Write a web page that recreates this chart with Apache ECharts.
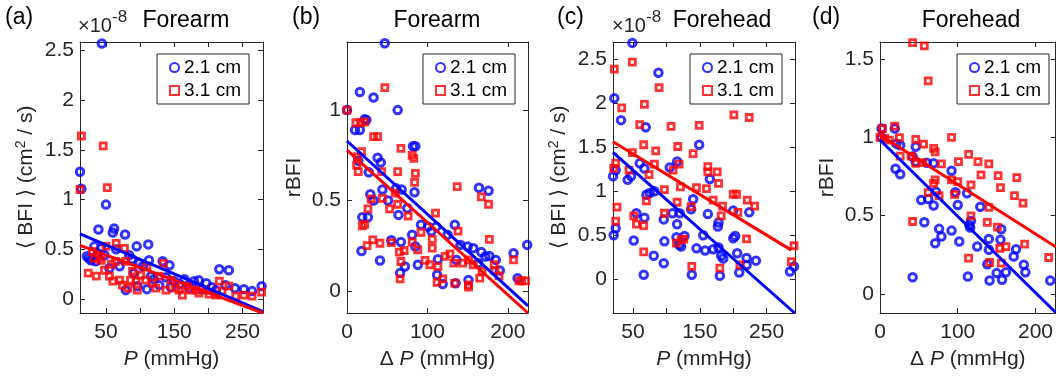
<!DOCTYPE html>
<html>
<head>
<meta charset="utf-8">
<script src="https://cdn.jsdelivr.net/npm/echarts@6/dist/echarts.min.js"></script>
<style>html,body{margin:0;padding:0;background:#fff}#c{width:1056px;height:377px}</style>
</head>
<body>
<div id="c"></div>
<script>
// ---------- data ----------
const seriesNames = ['2.1 cm', '3.1 cm'];

// Panel (a): Forearm, <BFI> (x1e-8 cm^2/s) vs P (mmHg)
const aBlue = [[12,1.28],[14,1.11],[44,2.57],[50,0.95],[39,0.70],[62,0.71],[60,0.67],[78,0.65],[95,0.53],[112,0.55],
 [22,0.43],[25,0.41],[28,0.39],[33,0.53],[35,0.38],[43,0.51],[48,0.44],[38,0.46],[55,0.31],[65,0.50],[70,0.33],[84,0.44],
 [88,0.40],[99,0.36],[91,0.26],[104,0.33],[113,0.39],[116,0.23],[79,0.09],[96,0.13],[110,0.10],[120,0.20],[128,0.14],
 [133,0.38],[143,0.34],[150,0.18],[158,0.15],[165,0.20],[172,0.11],[179,0.18],[186,0.19],[197,0.16],[205,0.12],[211,0.09],
 [216,0.30],[230,0.29],[239,0.11],[252,0.10],[264,0.08],[278,0.13],[138,0.22],[145,0.12],[190,0.10],[225,0.14]];
const aRed = [[14,1.64],[12,1.10],[46,1.54],[52,1.12],[24,0.26],[36,0.23],[30,0.48],[33,0.41],[43,0.39],[48,0.29],[50,0.53],
 [55,0.23],[60,0.18],[65,0.56],[64,0.38],[77,0.51],[74,0.14],[82,0.11],[79,0.38],[89,0.28],[94,0.18],[96,0.09],[110,0.33],
 [108,0.19],[118,0.16],[123,0.11],[134,0.36],[138,0.09],[145,0.19],[152,0.11],[162,0.04],[169,0.13],[174,0.09],[186,0.06],
 [196,0.09],[211,0.04],[216,0.18],[230,0.13],[240,0.03],[252,0.04],[264,0.03],[278,0.07],[220,0.08],[201,0.05],[182,0.09],
 [157,0.09],[101,0.24],[70,0.19],[86,0.19],[128,0.23],[40,0.42],[58,0.35]];
const aBlueFit = [[12,0.655],[280,-0.125]];
const aRedFit = [[12,0.54],[280,-0.14]];

// Panel (b): Forearm, rBFI vs delta P (mmHg)
const bBlue = [[47,1.37],[16,1.10],[33,1.07],[63,1.0],[0,1.0],[10,0.89],[16,0.89],[22,0.95],[24,0.945],[38,0.737],[42,0.71],
 [82,0.80],[85,0.80],[14,0.72],[27,0.656],[29,0.534],[33,0.50],[44,0.56],[61,0.567],[68,0.56],[64,0.42],[75,0.457],[84,0.545],
 [51,0.50],[19,0.407],[26,0.407],[18,0.22],[41,0.168],[55,0.28],[67,0.27],[66,0.098],[72,0.134],[81,0.31],[85,0.245],[88,0.144],
 [92,0.365],[101,0.355],[105,0.33],[111,0.355],[113,0.175],[112,0.088],[119,0.037],[125,0.31],[134,0.365],[135,0.042],[136,0.17],
 [141,0.254],[150,0.245],[157,0.236],[151,0.06],[164,0.57],[176,0.554],[167,0.214],[172,0.19],[177,0.193],[185,0.171],[190,0.112],
 [207,0.208],[212,0.07],[224,0.254],[163,0.153]];
const bRed = [[0,1.0],[47,1.125],[11,0.93],[17,0.93],[22,0.935],[33,0.853],[38,0.853],[67,0.788],[81,0.75],[83,0.733],[13,0.742],
 [18,0.77],[12,0.696],[14,0.66],[43,0.66],[63,0.66],[84,0.60],[85,0.65],[60,0.54],[63,0.479],[44,0.512],[30,0.508],[53,0.453],
 [26,0.453],[19,0.36],[22,0.368],[76,0.414],[92,0.324],[110,0.43],[106,0.285],[106,0.236],[137,0.576],[138,0.33],[167,0.52],
 [176,0.479],[177,0.285],[25,0.25],[32,0.282],[41,0.263],[55,0.267],[65,0.214],[71,0.223],[67,0.162],[66,0.066],[81,0.27],
 [88,0.227],[97,0.168],[103,0.144],[113,0.134],[112,0.046],[119,0.066],[122,0.19],[128,0.204],[134,0.042],[133,0.153],[144,0.153],
 [151,0.171],[151,0.033],[151,0.02],[157,0.144],[165,0.07],[168,0.107],[183,0.144],[184,0.112],[189,0.083],[207,0.171],[214,0.055],
 [222,0.055],[217,0.055]];
const bBlueFit = [[0,0.829],[225,-0.083]];
const bRedFit = [[0,0.779],[225,-0.123]];

// Panel (c): Forehead, <BFI> (x1e-8 cm^2/s) vs P (mmHg)
const cBlue = [[49,2.69],[22,2.06],[32,1.81],[88,2.35],[69,1.73],[149,1.53],[60,1.32],[67,1.26],[24,1.24],[20,1.17],[42,1.13],
 [47,1.17],[105,1.27],[116,1.34],[165,1.14],[70,0.96],[75,0.98],[82,1.0],[140,0.91],[55,0.75],[67,0.70],[96,0.68],[109,0.75],
 [120,0.75],[116,0.625],[137,0.795],[162,0.74],[178,0.644],[177,0.60],[200,0.78],[224,0.76],[24,0.58],[21,0.50],[51,0.44],
 [97,0.43],[115,0.477],[119,0.39],[122,0.37],[127,0.49],[145,0.35],[155,0.50],[158,0.326],[170,0.34],[178,0.36],[182,0.265],
 [185,0.235],[200,0.466],[203,0.49],[206,0.295],[220,0.24],[234,0.21],[220,0.16],[209,0.076],[81,0.265],[96,0.18],[66,0.05],
 [138,0.05],[180,0.038],[285,0.087],[291,0.144]];
const cRed = [[22,2.39],[49,2.47],[89,2.18],[33,1.95],[67,1.99],[60,1.76],[107,1.74],[149,1.75],[201,1.87],[224,1.84],[66,1.53],
 [84,1.46],[117,1.51],[140,1.43],[49,1.44],[21,1.26],[24,1.32],[44,1.24],[74,1.19],[82,1.31],[110,1.24],[119,1.31],[162,1.28],
 [162,1.22],[176,1.22],[121,1.05],[97,1.02],[145,1.04],[160,1.03],[178,1.09],[70,0.89],[116,0.875],[170,0.90],[184,0.83],
 [200,0.966],[205,0.966],[221,0.90],[232,0.83],[26,0.82],[24,0.66],[51,0.72],[55,0.625],[66,0.61],[97,0.75],[137,0.826],
 [182,0.72],[207,0.76],[115,0.41],[122,0.447],[126,0.455],[220,0.458],[66,0.31],[138,0.144],[180,0.125],[210,0.163],[287,0.20],
 [291,0.38]];
const cBlueFit = [[20,1.443],[292,-0.386]];
const cRedFit = [[20,1.565],[287,0.33]];

// Panel (d): Forehead, rBFI vs delta P (mmHg)
const dBlue = [[2,1.057],[19,1.057],[2,1.0],[21,0.96],[26,0.95],[46,0.94],[42,0.877],[46,0.845],[60,0.838],[69,0.834],[20,0.80],
 [26,0.764],[92,0.787],[53,0.60],[62,0.606],[69,0.564],[72,0.653],[97,0.649],[100,0.568],[112,0.643],[129,0.557],[57,0.457],
 [76,0.415],[79,0.366],[71,0.323],[92,0.404],[102,0.334],[115,0.44],[117,0.466],[116,0.423],[125,0.302],[140,0.351],[140,0.281],
 [138,0.189],[141,0.085],[150,0.132],[156,0.413],[155,0.345],[157,0.089],[162,0.138],[175,0.285],[172,0.238],[185,0.185],
 [187,0.138],[42,0.106],[113,0.11],[219,0.085]];
const dRed = [[42,1.606],[57,1.585],[62,1.362],[0,1.0],[3,1.057],[19,1.072],[6,0.994],[12,0.983],[25,0.998],[46,0.987],[56,0.957],
 [92,1.0],[69,0.93],[71,0.908],[40,0.88],[26,0.88],[46,0.834],[55,0.838],[79,0.83],[101,0.845],[114,0.891],[126,0.845],
 [140,0.83],[130,0.76],[152,0.755],[155,0.679],[176,0.743],[173,0.628],[184,0.579],[92,0.728],[100,0.717],[117,0.696],
 [69,0.706],[71,0.728],[62,0.647],[76,0.628],[96,0.636],[117,0.498],[140,0.553],[42,0.462],[138,0.457],[151,0.426],
 [154,0.291],[162,0.302],[186,0.317],[114,0.228],[141,0.20],[156,0.196],[217,0.232]];
const dBlueFit = [[0,0.983],[226,-0.12]];
const dRedFit = [[0,1.015],[226,0.30]];

// tick values / labels
const aXTicks = [50,100,150,200,250], aXLabels = [50,150,250];
const aYTicks = [0,0.5,1,1.5,2,2.5], aYLabels = [0,0.5,1,1.5,2,2.5];
const bXTicks = [0,100,200], bXLabels = [0,100,200];
const bYTicks = [0,0.5,1], bYLabels = [0,0.5,1];
const cXTicks = [50,100,150,200,250], cXLabels = [50,150,250];
const cYTicks = [0,0.5,1,1.5,2,2.5], cYLabels = [0,0.5,1,1.5,2,2.5];
const dXTicks = [0,100,200], dXLabels = [0,100,200];
const dYTicks = [0,0.5,1,1.5], dYLabels = [0,0.5,1,1.5];

const panelLetters = ['(a)','(b)','(c)','(d)'];
const panelTitles = ['Forearm','Forearm','Forehead','Forehead'];
const xNames = ['{i|P} (mmHg)','Δ {i|P} (mmHg)','{i|P} (mmHg)','Δ {i|P} (mmHg)'];
const yNames = ['⟨ BFI ⟩ (cm{s|2} / s)','rBFI','⟨ BFI ⟩ (cm{s|2} / s)','rBFI'];

// ---------- layout / style ----------
const FONT = "'Liberation Sans', Arial, Helvetica, sans-serif";
const AX = '#262626';
const panels = [
  {grid:{left:80,top:42,width:183,height:271}, xr:[12,280], yr:[-0.14,2.585], blue:aBlue, red:aRed, bf:aBlueFit, rf:aRedFit,
   xt:aXTicks, xl:aXLabels, yt:aYTicks, yl:aYLabels, legendLeft:157},
  {grid:{left:347,top:42,width:181,height:271}, xr:[0,225], yr:[-0.123,1.377], blue:bBlue, red:bRed, bf:bBlueFit, rf:bRedFit,
   xt:bXTicks, xl:bXLabels, yt:bYTicks, yl:bYLabels, legendLeft:423},
  {grid:{left:613,top:42,width:182,height:271}, xr:[20,292.5], yr:[-0.386,2.70], blue:cBlue, red:cRed, bf:cBlueFit, rf:cRedFit,
   xt:cXTicks, xl:cXLabels, yt:cYTicks, yl:cYLabels, legendLeft:690},
  {grid:{left:880,top:42,width:182,height:271}, xr:[0,226], yr:[-0.123,1.61], blue:dBlue, red:dRed, bf:dBlueFit, rf:dRedFit,
   xt:dXTicks, xl:dXLabels, yt:dYTicks, yl:dYLabels, legendLeft:957}
];

const grid = [], xAxis = [], yAxis = [], series = [], legend = [];
panels.forEach((p, i) => {
  grid.push(Object.assign({containLabel:false}, p.grid));
  const common = {type:'value', gridIndex:i, splitLine:{show:false},
    axisLine:{show:true, onZero:false, lineStyle:{color:AX, width:1}}};
  xAxis.push(Object.assign({}, common, {position:'bottom', min:p.xr[0], max:p.xr[1],
    axisTick:{show:true, inside:true, length:5, customValues:p.xt, lineStyle:{color:AX}},
    axisLabel:{show:true, customValues:p.xl, color:AX, fontSize:21, fontFamily:FONT, margin:9},
    name:xNames[i], nameLocation:'middle', nameGap:36,
    nameTextStyle:{color:AX, fontSize:21, fontFamily:FONT, rich:{i:{fontStyle:'italic', fontSize:21, fontFamily:FONT, color:AX}}}}));
  xAxis.push(Object.assign({}, common, {position:'top', min:p.xr[0], max:p.xr[1],
    axisTick:{show:true, inside:true, length:5, customValues:p.xt, lineStyle:{color:AX}},
    axisLabel:{show:false}}));
  yAxis.push(Object.assign({}, common, {position:'left', min:p.yr[0], max:p.yr[1],
    axisTick:{show:true, inside:true, length:5, customValues:p.yt, lineStyle:{color:AX}},
    axisLabel:{show:true, customValues:p.yl, color:AX, fontSize:21, fontFamily:FONT, margin:6},
    name:yNames[i], nameLocation:'middle', nameGap:42, nameRotate:90,
    nameTextStyle:{color:AX, fontSize:21, fontFamily:FONT,
      rich:{s:{fontSize:14, fontFamily:FONT, color:AX, verticalAlign:'top', padding:[0,0,10,0]}}}}));
  yAxis.push(Object.assign({}, common, {position:'right', min:p.yr[0], max:p.yr[1],
    axisTick:{show:true, inside:true, length:5, customValues:p.yt, lineStyle:{color:AX}},
    axisLabel:{show:false}}));
  series.push({type:'scatter', name:seriesNames[0], xAxisIndex:2*i, yAxisIndex:2*i, data:p.blue,
    symbol:'circle', symbolSize:7.5, itemStyle:{color:'rgba(0,0,0,0)', borderColor:'#0000ff', borderWidth:3}, silent:true});
  series.push({type:'scatter', name:seriesNames[1], xAxisIndex:2*i, yAxisIndex:2*i, data:p.red,
    symbol:'rect', symbolSize:6, itemStyle:{color:'rgba(0,0,0,0)', borderColor:'#ff0000', borderWidth:2.8}, silent:true});
  series.push({type:'line', name:'fitB'+i, xAxisIndex:2*i, yAxisIndex:2*i, data:p.bf, showSymbol:false, symbol:'none',
    lineStyle:{color:'#0000ff', width:3}, itemStyle:{color:'#0000ff'}, silent:true, clip:true});
  series.push({type:'line', name:'fitR'+i, xAxisIndex:2*i, yAxisIndex:2*i, data:p.rf, showSymbol:false, symbol:'none',
    lineStyle:{color:'#ff0000', width:3}, itemStyle:{color:'#ff0000'}, silent:true, clip:true});
  legend.push({data:[{name:seriesNames[0], icon:'circle'},{name:seriesNames[1], icon:'rect'}], orient:'vertical',
    left:p.legendLeft, top:54, padding:[4,8,4,12], itemGap:4, itemWidth:9, itemHeight:9,
    borderColor:AX, borderWidth:1, backgroundColor:'#fff', selectedMode:false,
    textStyle:{fontSize:19, color:'#000', fontFamily:FONT}});
});

const graphic = [];
const letterX = [5, 292, 557, 812];
const titleX = [186, 437, 722, 971];
panelLetters.forEach((t, i) => {
  graphic.push({type:'text', x:letterX[i], y:18, style:{text:t, fill:'#000', font:'23px ' + FONT, textAlign:'left', textVerticalAlign:'middle'}});
  graphic.push({type:'text', x:titleX[i], y:21, style:{text:panelTitles[i], fill:'#000', font:'23px ' + FONT, textAlign:'center', textVerticalAlign:'middle'}});
});
[[78],[612]].forEach(([x]) => {
  graphic.push({type:'text', x:x, y:26, style:{text:'×10', fill:AX, font:'20px ' + FONT, textAlign:'left', textVerticalAlign:'middle'}});
  graphic.push({type:'text', x:x+34, y:17, style:{text:'-8', fill:AX, font:'17px ' + FONT, textAlign:'left', textVerticalAlign:'middle'}});
});

const chart = echarts.init(document.getElementById('c'), null, {renderer:'canvas'});
chart.setOption({animation:false, backgroundColor:'#fff', grid, xAxis, yAxis, series, legend, graphic});
</script>
</body>
</html>
